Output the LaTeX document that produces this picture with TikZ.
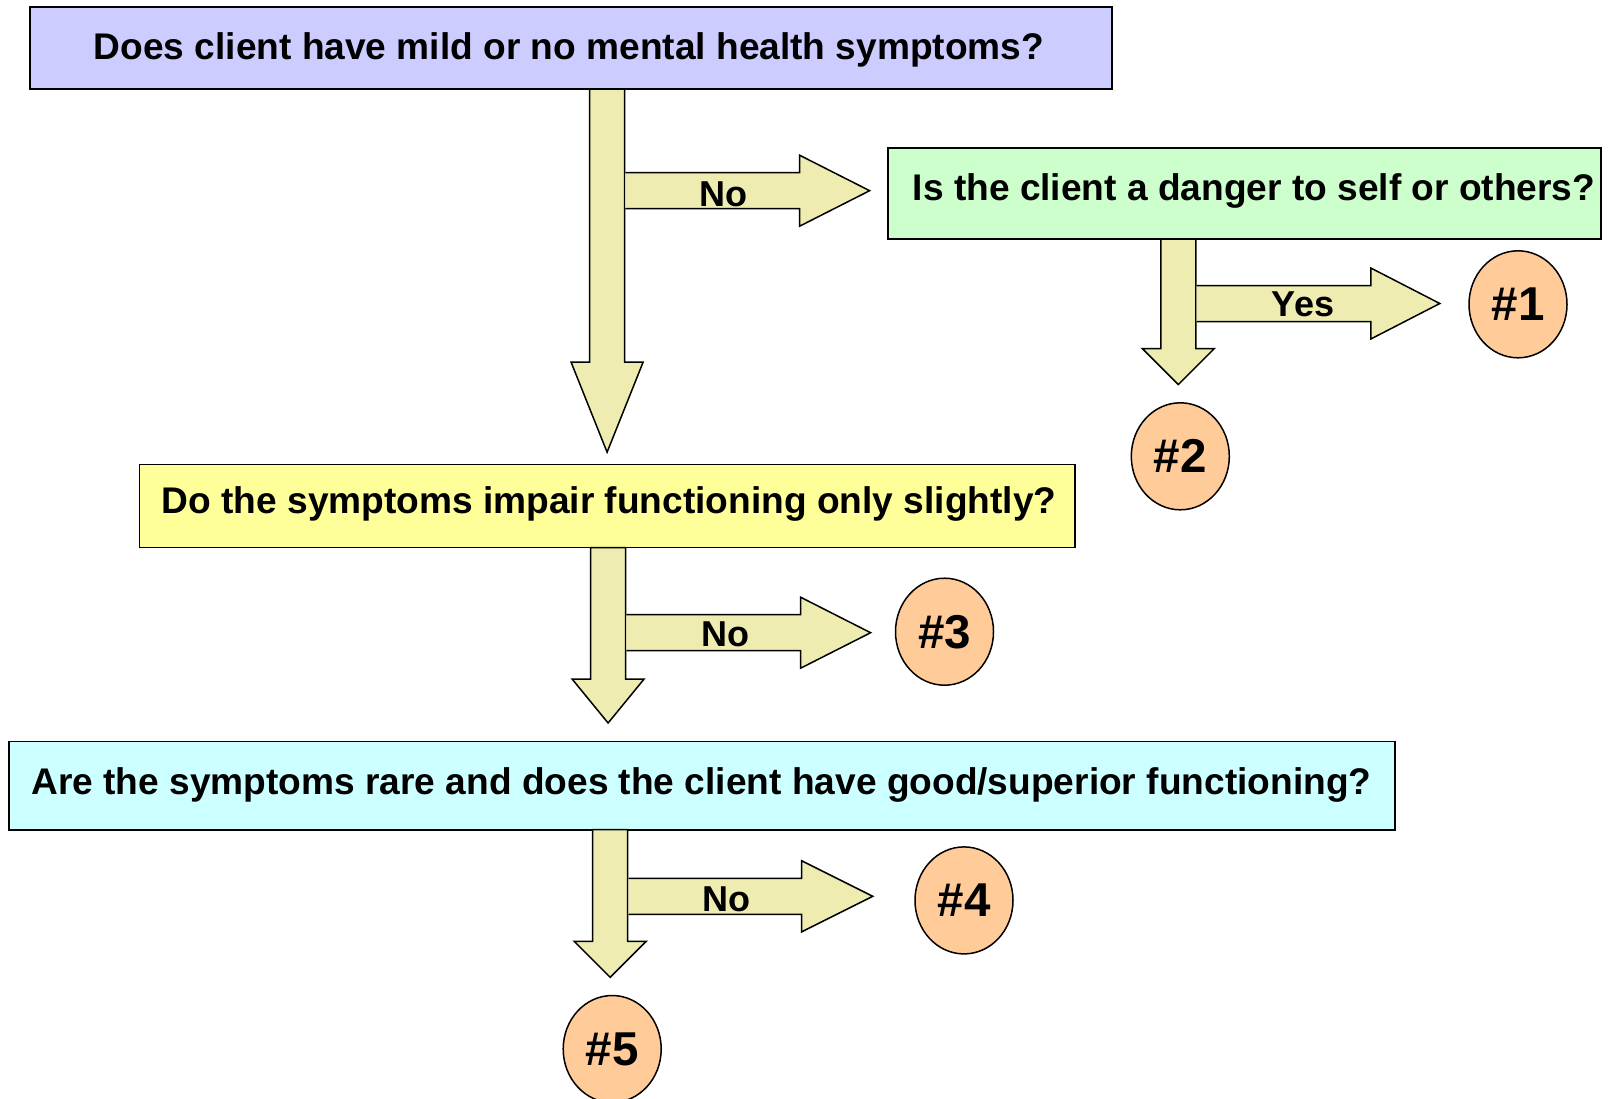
\documentclass[tikz,border=0pt]{standalone}
\usepackage{fontspec}
\setmainfont{Liberation Sans}
\usetikzlibrary{calc,shapes.geometric}

\definecolor{qblue}{RGB}{204,204,255}
\definecolor{qgreen}{RGB}{204,255,204}
\definecolor{qyellow}{RGB}{255,255,153}
\definecolor{qcyan}{RGB}{204,255,255}
\definecolor{flowfill}{RGB}{238,236,176}
\definecolor{outfill}{RGB}{255,204,153}

\tikzset{
  qbox/.style={rectangle, draw=black, line width=1.8pt, inner sep=0pt, outer sep=0pt},
  qtext/.style={font=\fontsize{37.1}{44}\selectfont\bfseries, inner sep=0pt, anchor=base},
  flowlabel/.style={font=\fontsize{36}{43}\selectfont\bfseries, inner sep=0pt, anchor=base},
  outcome/.style={ellipse, draw=black, line width=1.5pt, fill=outfill,
    minimum width=98pt, minimum height=107pt, inner sep=0pt,
    font=\fontsize{47.5}{56}\selectfont\bfseries},
  flowarrow/.style={draw=black, fill=flowfill, line width=1.5pt, line join=miter},
}

% Downward block arrow: #1 top centre, #2 tip, #3 head length
\newcommand\downflow[3]{%
  \draw[flowarrow] let \p1=(#1), \p2=(#2) in
    (\x1-17.5pt,\y1) -- (\x1-17.5pt,\y2+#3) -- (\x1-36pt,\y2+#3) -- (\x2,\y2)
    -- (\x1+36pt,\y2+#3) -- (\x1+17.5pt,\y2+#3) -- (\x1+17.5pt,\y1) -- cycle;
}
% Rightward block arrow leaving a vertical shaft: #1 point on the shaft axis, #2 tip, #3 head length
\newcommand\rightflow[3]{%
  \draw[flowarrow] let \p1=(#1), \p2=(#2) in
    (\x1+18.3pt,\y2+18pt) -- (\x2-#3,\y2+18pt) -- (\x2-#3,\y2+35.5pt) -- (\x2,\y2)
    -- (\x2-#3,\y2-35.5pt) -- (\x2-#3,\y2-18pt) -- (\x1+18.3pt,\y2-18pt);
}

\begin{document}
\begin{tikzpicture}[x=1pt,y=-1pt]
\useasboundingbox (0,0) rectangle (1608,1098);

% question boxes
\node[qbox, fill=qblue,   minimum width=1082pt,   minimum height=82pt]   (q1) at (570.7,48.2) {};
\node[qbox, fill=qgreen,  minimum width=712.8pt,  minimum height=91.3pt] (q2) at (1244.4,193.4) {};
\node[qbox, fill=qyellow, minimum width=935.2pt,  minimum height=83.1pt] (q3) at (607.1,506) {};
\node[qbox, fill=qcyan,   minimum width=1385.5pt, minimum height=88.2pt] (q4) at (702,785.5) {};

\node[qtext] (q1t) at (569,59.5)    {Does client have mild or no mental health symptoms?};
\node[qtext] (q2t) at (1254,200.5)  {Is the client a danger to self or others?};
\node[qtext] (q3t) at (609,513.5)   {Do the symptoms impair functioning only slightly?};
\node[qtext] (q4t) at (701.4,794)   {Are the symptoms rare and does the client have good/superior functioning?};

% outcomes
\node[outcome] (o1) at (1518,304.3)  {\#1};
\node[outcome] (o2) at (1180.3,456.3) {\#2};
\node[outcome] (o3) at (944.5,631.7)  {\#3};
\node[outcome] (o4) at (964,900.4)    {\#4};
\node[outcome] (o5) at (612.2,1049)   {\#5};

% arrow tips
\coordinate (d1) at (607.1,452.2);
\coordinate (r1) at (869.6,190.7);
\coordinate (d2) at (1178.3,384.6);
\coordinate (r2) at (1439.8,303.5);
\coordinate (d3) at (608.1,723);
\coordinate (r3) at (870.6,632.7);
\coordinate (d4) at (610.2,977.3);
\coordinate (r4) at (872.7,896.3);

% block arrows
\downflow{q1.south -| d1}{d1}{90pt}
\rightflow{d1}{r1}{70pt}
\downflow{q2.south -| d2}{d2}{36pt}
\rightflow{d2}{r2}{69pt}
\downflow{q3.south -| d3}{d3}{44pt}
\rightflow{d3}{r3}{70pt}
\downflow{q4.south -| d4}{d4}{36pt}
\rightflow{d4}{r4}{71pt}

% arrow labels
\node[flowlabel] (l1) at (723,206)    {No};
\node[flowlabel] (l2) at (1303,316.7) {Yes};
\node[flowlabel] (l3) at (725,646.7)  {No};
\node[flowlabel] (l4) at (726,911.5)  {No};
\end{tikzpicture}
\end{document}
